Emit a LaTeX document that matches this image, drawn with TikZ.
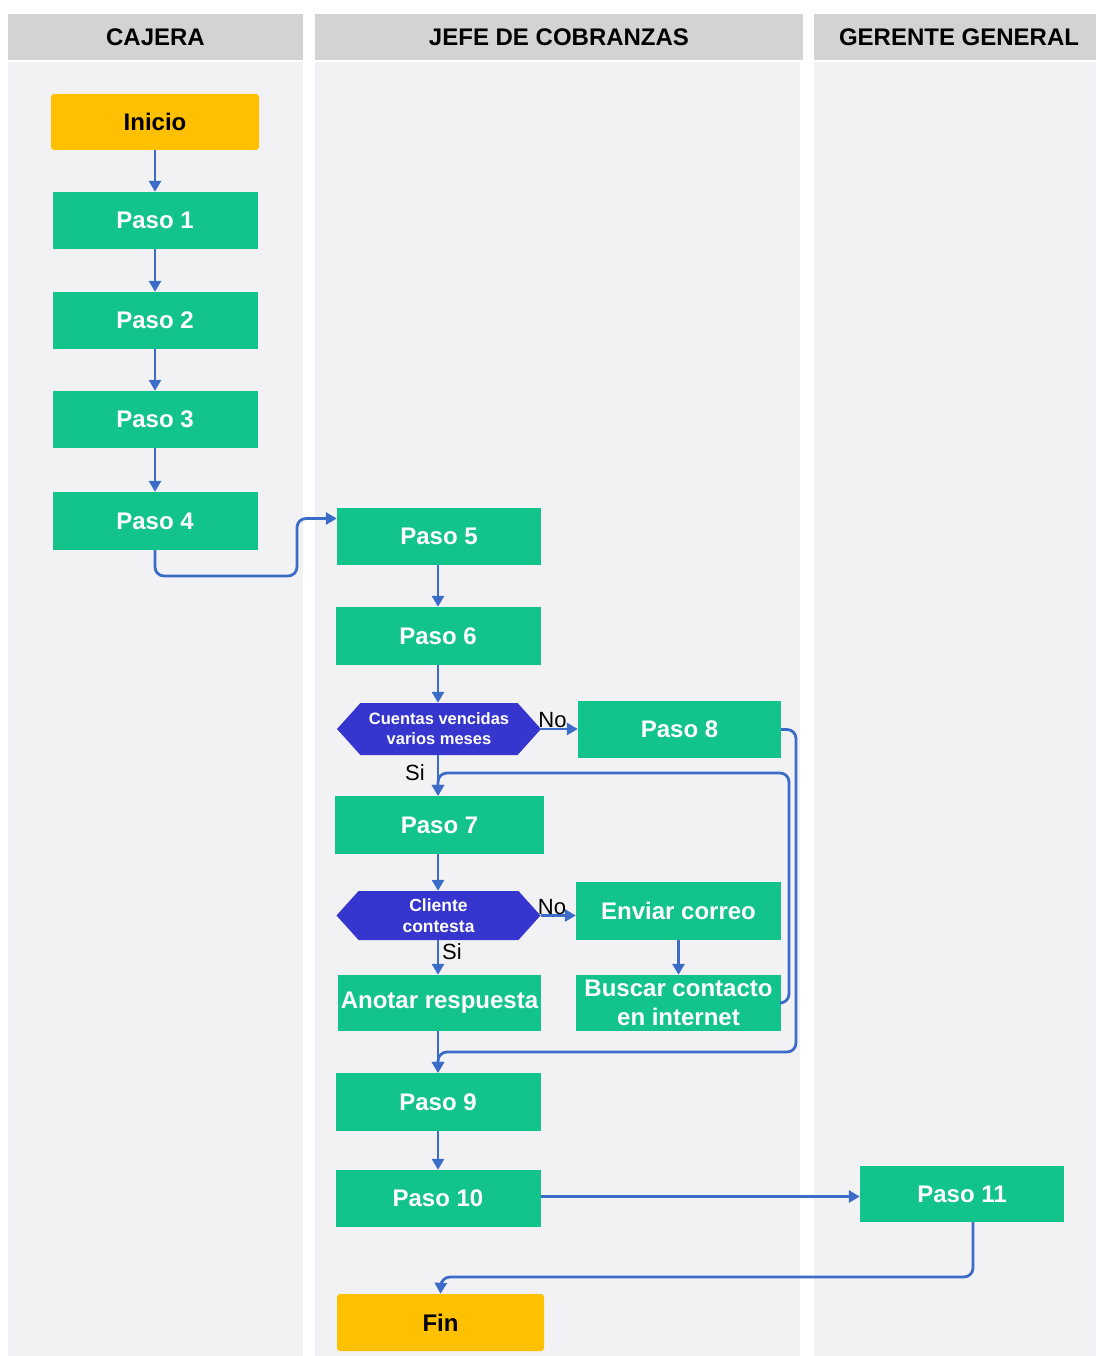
\documentclass[tikz,border=0pt]{standalone}
\usepackage{fontspec}
\setmainfont{Liberation Sans}
\usetikzlibrary{arrows.meta,shapes.symbols}
\definecolor{lanehead}{RGB}{211,211,211}
\definecolor{lanebody}{RGB}{242,242,245}
\definecolor{stepgreen}{RGB}{18,196,140}
\definecolor{endorange}{RGB}{255,192,0}
\definecolor{hexblue}{RGB}{54,54,206}
\definecolor{flowblue}{RGB}{58,108,200}
\begin{document}
\begin{tikzpicture}[x=1pt,y=-1pt,
    stepbox/.style={fill=stepgreen,text=white,inner sep=0pt,minimum width=205pt,minimum height=57pt,
      font=\fontsize{24}{28}\selectfont\bfseries},
    endbox/.style={stepbox,fill=endorange,text=black,rounded corners=3pt},
    hexbox/.style={shape=signal,signal to=west and east,signal pointer angle=96,fill=hexblue,text=white,
      inner sep=0pt,minimum width=204pt,minimum height=50pt,align=center,
      font=\fontsize{16.5}{20}\selectfont\bfseries},
    lanetitle/.style={font=\fontsize{24}{28}\selectfont\bfseries},
    answer/.style={font=\fontsize{22}{26}\selectfont,inner sep=1pt},
    flow/.style={draw=flowblue,line width=2.8pt,-{Triangle[width=12pt,length=11pt]}}]
  \useasboundingbox (0,0) rectangle (1096,1356);
  \fill[white] (0,0) rectangle (1096,1356);

  % Drawing the three lanes
  \fill[lanehead] (8,14) rectangle (303,60);
  \fill[lanebody] (8,62) rectangle (303,1356);
  \fill[lanehead] (315,14) rectangle (803,60);
  \fill[lanebody] (315,62) rectangle (800,1356);
  \fill[lanehead] (814,14) rectangle (1096,60);
  \fill[lanebody] (814,62) rectangle (1096,1356);
  \node[lanetitle] (hcaj) at (155.5,37) {CAJERA};
  \node[lanetitle] (hjef) at (559,37) {JEFE DE COBRANZAS};
  \node[lanetitle] (hger) at (959,37) {GERENTE GENERAL};

  % Steps of the cashier
  \node[endbox,minimum width=208pt,minimum height=56pt] (inicio) at (155,122) {Inicio};
  \node[stepbox] (p1) at (155,220.5) {Paso 1};
  \node[stepbox] (p2) at (155,320.5) {Paso 2};
  \node[stepbox] (p3) at (155,419.5) {Paso 3};
  \node[stepbox,minimum height=58pt] (p4) at (155,521) {Paso 4};

  % Steps of the collections head
  \node[stepbox,minimum width=204pt] (p5) at (439,536.5) {Paso 5};
  \node[stepbox,minimum height=58pt] (p6) at (438,636) {Paso 6};
  \node[hexbox,minimum height=52pt] (d1) at (439,729) {Cuentas vencidas\\varios meses};
  \node[stepbox,minimum width=203pt] (p8) at (679.5,729.5) {Paso 8};
  \node[stepbox,minimum width=209pt,minimum height=58pt] (p7) at (439.5,825) {Paso 7};
  \node[hexbox,minimum height=49pt,font=\fontsize{17.5}{21}\selectfont\bfseries] (d2) at (438.5,915.5) {Cliente\\contesta};
  \node[stepbox,minimum height=58pt] (correo) at (678.5,911) {Enviar correo};
  \node[stepbox,minimum width=203pt,minimum height=56pt] (anotar) at (439.5,1003) {Anotar respuesta};
  \node[stepbox,minimum height=56pt,align=center,font=\fontsize{24}{29}\selectfont\bfseries] (buscar) at (678.5,1003) {Buscar contacto\\en internet};
  \node[stepbox,minimum height=58pt] (p9) at (438,1102) {Paso 9};
  \node[stepbox] (p10) at (438,1198.5) {Paso 10};
  \node[endbox,minimum width=207pt] (fin) at (440.5,1322.5) {Fin};

  % Step of the general manager
  \node[stepbox,minimum width=204pt,minimum height=56pt] (p11) at (962,1194) {Paso 11};

  % Bend points of the connectors
  \coordinate (k4) at (297,576);
  \coordinate (k8) at (796,1052);
  \coordinate (kb) at (789,773);
  \coordinate (k11) at (441,1277);

  % Drawing the connectors
  \draw[flow] (inicio) -- (p1);
  \draw[flow] (p1) -- (p2);
  \draw[flow] (p2) -- (p3);
  \draw[flow] (p3) -- (p4);
  \draw[flow,rounded corners=9pt] (p4.south) |- (k4) |- ([yshift=18pt]p5.west);
  \draw[flow] (p5.south -| p6) -- (p6.north);
  \draw[flow] (p6.south) -- (p6.south |- d1.north);
  \draw[flow] (d1.east) -- (p8.west |- d1.east);
  \draw[flow] (d1.south -| p6) -- (p7.north -| p6);
  \draw[flow,rounded corners=9pt] (p8.east) -| (k8) -| (p9.north);
  \draw[flow,rounded corners=9pt] (buscar.east) -| (kb) -| (p7.north -| p6);
  \draw[flow] (p7.south -| p6) -- (d2.north -| p6);
  \draw[flow] (d2.east) -- (correo.west |- d2.east);
  \draw[flow] (d2.south -| p6) -- (anotar.north -| p6);
  \draw[flow] (correo) -- (buscar);
  \draw[flow] (anotar.south -| p6) -- (p9.north);
  \draw[flow] (p9) -- (p10);
  \draw[flow] ([yshift=2pt]p10.east) -- ([yshift=2pt]p10.east -| p11.west);
  \draw[flow,rounded corners=9pt] ([xshift=11pt]p11.south) |- (k11) -- (fin.north);

  % Marking the answers
  \node[answer,anchor=south west] (no1) at ([xshift=-4pt,yshift=0pt]d1.east) {No};
  \node[answer,anchor=east] (si1) at (426,773) {Si};
  \node[answer,anchor=south west] (no2) at ([xshift=-4pt,yshift=0pt]d2.east) {No};
  \node[answer,anchor=west] (si2) at (441,952) {Si};
\end{tikzpicture}
\end{document}
